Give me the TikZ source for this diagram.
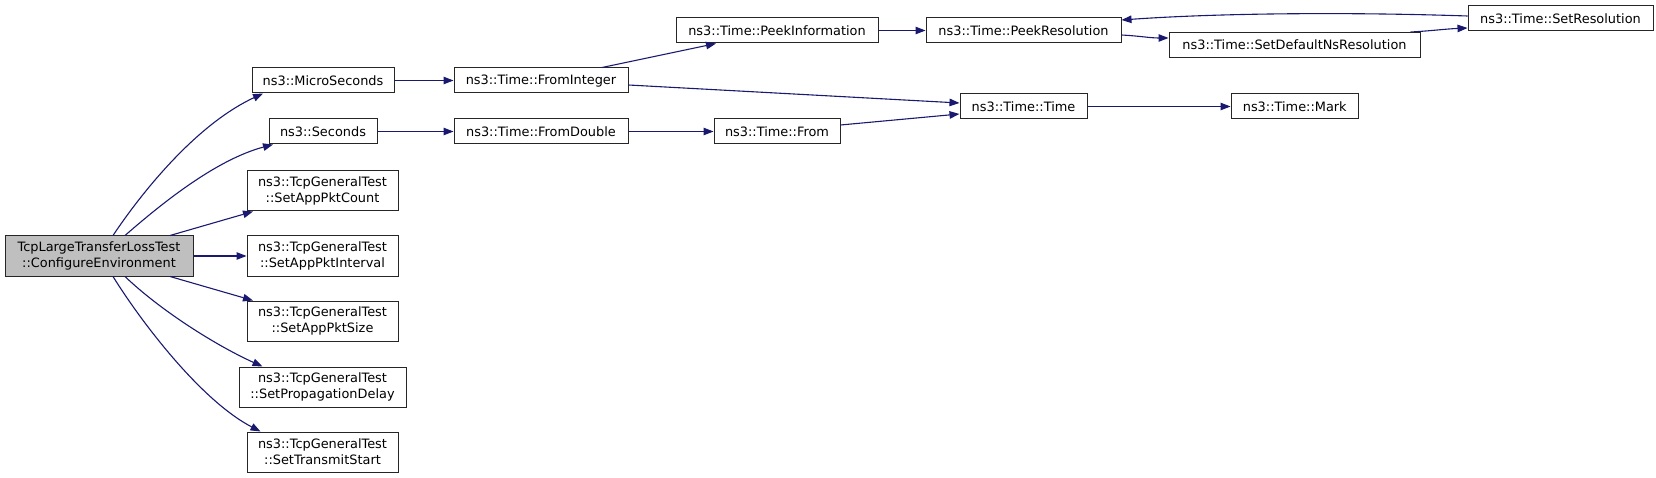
\documentclass[tikz,border=0pt]{standalone}
\usepackage{fontspec}
\setmainfont{DejaVu Sans}
\usetikzlibrary{arrows.meta}
\definecolor{edgec}{HTML}{191970}
\definecolor{rootfill}{HTML}{BFBFBF}
\tikzset{
  fn/.style={draw=black!85, line width=1pt, fill=white, rectangle, inner sep=0pt, align=center,
    font=\fontsize{12.9}{16}\selectfont, minimum height=25pt},
  fn2/.style={fn, minimum height=40pt},
  call/.style={draw=edgec, line width=1.1pt, -{Triangle[length=10pt,width=7.5pt]}}
}
\begin{document}
\begin{tikzpicture}[x=1pt,y=-1pt]
\useasboundingbox (0,0) rectangle (1656,478);
% left column
\node[fn2, fill=rootfill, minimum width=188pt] (root) at (99,256) {TcpLargeTransferLossTest\\::ConfigureEnvironment};
\node[fn, minimum width=142pt] (micro) at (323,80.5) {ns3::MicroSeconds};
\node[fn, minimum width=108pt] (sec) at (323,131.5) {ns3::Seconds};
\node[fn2, minimum width=151pt] (cnt) at (322.5,191) {ns3::TcpGeneralTest\\::SetAppPktCount};
\node[fn2, minimum width=151pt] (intv) at (322.5,256) {ns3::TcpGeneralTest\\::SetAppPktInterval};
\node[fn2, minimum width=151pt] (size) at (322.5,321) {ns3::TcpGeneralTest\\::SetAppPktSize};
\node[fn2, minimum width=167pt] (prop) at (322.5,387) {ns3::TcpGeneralTest\\::SetPropagationDelay};
\node[fn2, minimum width=151pt] (start) at (322.5,452) {ns3::TcpGeneralTest\\::SetTransmitStart};
% further columns
\node[fn, minimum width=174pt] (fint) at (541,80.5) {ns3::Time::FromInteger};
\node[fn, minimum width=174pt] (fdbl) at (541,131.5) {ns3::Time::FromDouble};
\node[fn, minimum width=202pt] (pinfo) at (777,30.5) {ns3::Time::PeekInformation};
\node[fn, minimum width=126pt] (from) at (777,131.5) {ns3::Time::From};
\node[fn, minimum width=195pt] (pres) at (1023.5,30.5) {ns3::Time::PeekResolution};
\node[fn, minimum width=127pt] (time) at (1023.5,106.5) {ns3::Time::Time};
\node[fn, minimum width=251pt] (sdef) at (1294.5,45) {ns3::Time::SetDefaultNsResolution};
\node[fn, minimum width=127.5pt] (mark) at (1294.75,106.5) {ns3::Time::Mark};
\node[fn, minimum width=185pt] (sres) at (1560.5,18.5) {ns3::Time::SetResolution};
% edges from root
\draw[call] ([xshift=14pt]root.north) .. controls (140,195) and (195,125) .. ([xshift=-60pt]micro.south);
\draw[call] ([xshift=26pt]root.north) .. controls (160,205) and (215,160) .. ([xshift=-50pt]sec.south);
\draw[call] ([xshift=71pt]root.north) -- ([xshift=-69.5pt]cnt.south);
\draw[call] (root.east) -- (intv.west);
\draw[call] ([xshift=71pt]root.south) -- ([xshift=-69.5pt]size.north);
\draw[call] ([xshift=26pt]root.south) .. controls (160,310) and (215,345) .. ([xshift=-60pt]prop.north);
\draw[call] ([xshift=14pt]root.south) .. controls (140,320) and (200,400) .. ([xshift=-62pt]start.north);
% other edges
\draw[call] (micro.east) -- (fint.west);
\draw[call] (sec.east) -- (fdbl.west);
\draw[call] (fdbl.east) -- (from.west);
\draw[call] ([xshift=61pt]fint.north) -- ([xshift=-61pt]pinfo.south);
\draw[call] ([yshift=-4.5pt]fint.east) -- ([yshift=3.5pt]time.west);
\draw[call] ([yshift=6.5pt]from.east) -- ([yshift=-7.5pt]time.west);
\draw[call] (pinfo.east) -- (pres.west);
\draw[call] ([yshift=-4.5pt]pres.east) .. controls (1140,36) and (1150,38) .. ([yshift=7pt]sdef.west);
\draw[call] ([xshift=-10pt]sdef.north east) .. controls (1430,31) and (1445,29) .. ([yshift=-9.5pt]sres.west);
\draw[call] ([yshift=2.5pt]sres.west) .. controls (1350,12) and (1220,13) .. ([yshift=-2.5pt]pres.north east);
\draw[call] (time.east) -- (mark.west);
\end{tikzpicture}
\end{document}
